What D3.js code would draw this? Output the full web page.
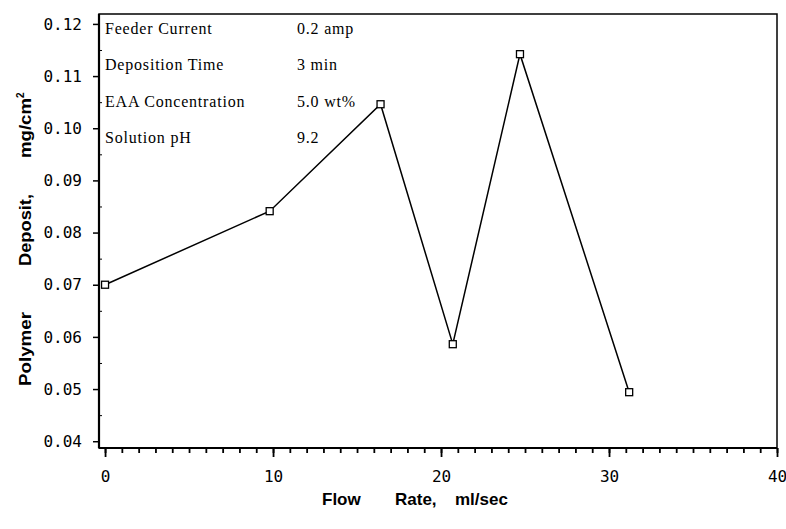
<!DOCTYPE html>
<html>
<head>
<meta charset="utf-8">
<script src="https://cdn.jsdelivr.net/npm/d3@7"></script>
<style>
  body { margin: 0; background: #fff; }
  svg { display: block; }
  .tick text { font-family: "DejaVu Sans Mono", monospace; font-size: 16px; fill: #000; }
  .ann { font-family: "Liberation Serif", serif; font-size: 16px; letter-spacing: 0.8px; fill: #000; }
  .title { font-family: "Liberation Sans", Arial, sans-serif; font-weight: bold; font-size: 17px; fill: #000; }
</style>
</head>
<body>
<svg id="chart" width="786" height="529"></svg>
<script>
// data
var flowRate = [0, 9.8, 16.4, 20.7, 24.7, 31.2];
var deposit = [0.070, 0.0841, 0.1046, 0.0586, 0.1142, 0.0494];
var xTicks = [0, 10, 20, 30, 40];
var yTicks = [0.04, 0.05, 0.06, 0.07, 0.08, 0.09, 0.10, 0.11, 0.12];
var annLabels = ["Feeder Current", "Deposition Time", "EAA Concentration", "Solution pH"];
var annValues = ["0.2 amp", "3 min", "5.0 wt%", "9.2"];

var margin = {top: 14, right: 9, bottom: 81, left: 99};
var width = 786 - margin.left - margin.right;
var height = 529 - margin.top - margin.bottom;

var svg = d3.select("svg#chart");
var g = svg.append("g").attr("transform", "translate(" + margin.left + "," + margin.top + ")");

var x = d3.scaleLinear().domain([-0.36, 40]).range([0, width]);
var y = d3.scaleLinear().domain([0.0387, 0.1219]).range([height, 0]);

// frame
g.append("rect")
  .attr("width", width).attr("height", height)
  .attr("fill", "none").attr("stroke", "#000").attr("stroke-width", 1.5);
g.append("line").attr("x1", 0).attr("x2", 0).attr("y1", 0).attr("y2", height)
  .attr("stroke", "#000").attr("stroke-width", 2.2);
g.append("line").attr("x1", 0).attr("x2", width).attr("y1", height).attr("y2", height)
  .attr("stroke", "#000").attr("stroke-width", 2.2);

// x axis: minor every 1, major every 10
g.append("g")
  .attr("transform", "translate(0," + height + ")")
  .call(d3.axisBottom(x).tickValues(d3.range(0, 41, 1)).tickSize(5).tickFormat(""))
  .call(function (a) { a.select(".domain").remove(); a.selectAll("line").attr("stroke-width", 1.8); });
g.append("g")
  .attr("transform", "translate(0," + height + ")")
  .call(d3.axisBottom(x).tickValues(xTicks).tickSize(9).tickPadding(14).tickFormat(d3.format("d")))
  .call(function (a) { a.select(".domain").remove(); a.selectAll("line").attr("stroke-width", 1.8); });

// y axis
g.append("g")
  .call(d3.axisLeft(y).tickValues(yTicks).tickSize(6).tickPadding(11).tickFormat(d3.format(".2f")))
  .call(function (a) { a.select(".domain").remove(); a.selectAll("line").attr("stroke-width", 1.5); });
g.append("g")
  .call(d3.axisRight(y).tickValues(d3.range(0.045, 0.12, 0.01)).tickSize(3).tickFormat(""))
  .call(function (a) { a.select(".domain").remove(); a.selectAll("line").attr("stroke-width", 1); });

// line + square markers
var line = d3.line()
  .x(function (d, i) { return x(flowRate[i]); })
  .y(function (d) { return y(d); });

g.append("path")
  .datum(deposit)
  .attr("d", line)
  .attr("fill", "none")
  .attr("stroke", "#000")
  .attr("stroke-width", 1.5);

g.selectAll("rect.pt")
  .data(deposit)
  .enter()
  .append("rect")
  .attr("class", "pt")
  .attr("x", function (d, i) { return x(flowRate[i]) - 3.5; })
  .attr("y", function (d) { return y(d) - 3.5; })
  .attr("width", 7).attr("height", 7)
  .attr("fill", "#fff").attr("stroke", "#000").attr("stroke-width", 1.3);

// annotation block
annLabels.forEach(function (lab, i) {
  g.append("text").attr("class", "ann").attr("x", 6).attr("y", 20 + i * 36.4).text(lab);
  g.append("text").attr("class", "ann").attr("x", 198).attr("y", 20 + i * 36.4).text(annValues[i]);
});

// axis titles
var xt = svg.append("text").attr("class", "title").attr("y", 505);
xt.append("tspan").attr("x", 322).text("Flow");
xt.append("tspan").attr("x", 395).text("Rate,");
xt.append("tspan").attr("x", 455).text("ml/sec");

var yt = svg.append("text").attr("class", "title")
  .attr("transform", "translate(31,0) rotate(-90)");
yt.append("tspan").attr("x", -386).attr("textLength", 74).attr("lengthAdjust", "spacingAndGlyphs").text("Polymer");
yt.append("tspan").attr("x", -266).attr("textLength", 72).attr("lengthAdjust", "spacingAndGlyphs").text("Deposit,");
yt.append("tspan").attr("x", -158).attr("textLength", 60).attr("lengthAdjust", "spacingAndGlyphs").text("mg/cm");
yt.append("tspan").attr("dy", -7).attr("font-size", "10px").text("2");
</script>
</body>
</html>
